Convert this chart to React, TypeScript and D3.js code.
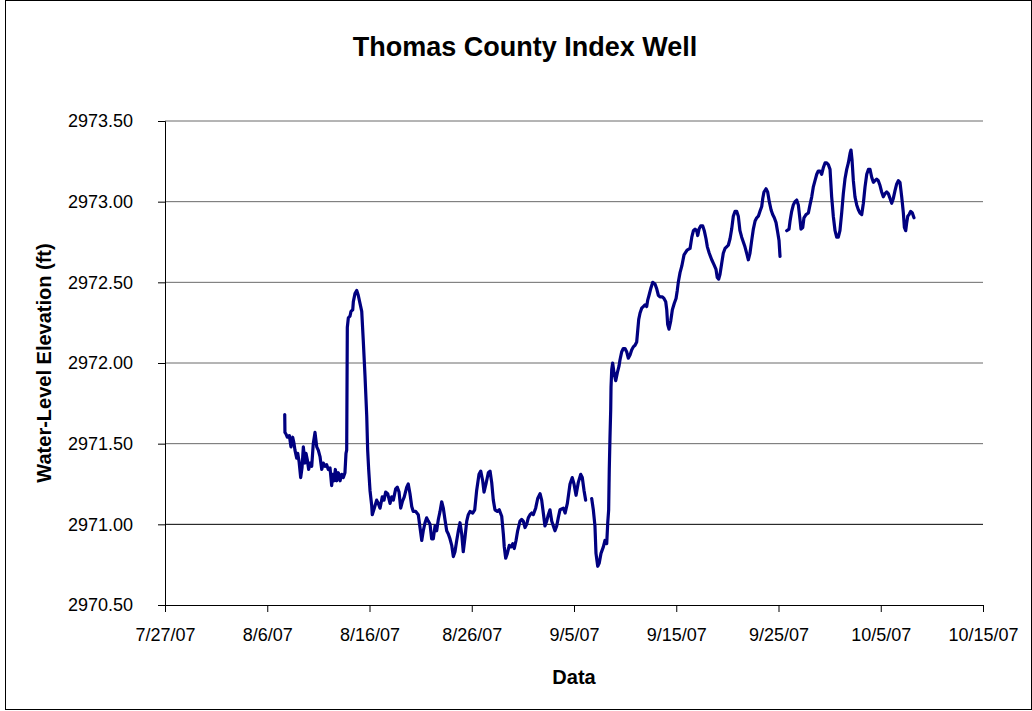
import React, { useEffect, useRef } from "react";
import * as d3 from "d3";

// days after 7/27/07 (fractional), null level = gap in the record
const dayOffsets = [
  11.71, 11.73, 11.83, 11.96, 12.16, 12.32, 12.49, 12.62, 12.71, 12.88, 12.98, 13.11, 13.27, 13.4, 13.53, 13.69,
  13.79, 13.92, 14.05, 14.18, 14.35, 14.5, 14.67, 14.84, 14.99, 15.16, 15.33, 15.48, 15.65, 15.81, 15.97, 16.14,
  16.3, 16.4, 16.53, 16.66, 16.79, 16.95, 17.12, 17.28, 17.44, 17.6, 17.7, 17.77, 17.83, 17.93, 18.09, 18.19,
  18.36, 18.42, 18.58, 18.75, 18.9, 19.07, 19.24, 19.39, 19.56, 19.73, 19.82, 19.92, 20.05, 20.21, 20.27, 20.47,
  20.7, 20.86, 21.03, 21.25, 21.42, 21.58, 21.78, 22.01, 22.17, 22.33, 22.56, 22.72, 22.89, 23.05, 23.21, 23.4,
  23.64, 23.79, 23.96, 24.13, 24.28, 24.52, 24.77, 24.94, 25.11, 25.26, 25.43, 25.59, 25.75, 25.92, 26.08, 26.24,
  26.41, 26.57, 26.73, 26.9, 27.06, 27.22, 27.38, 27.55, 27.71, 27.87, 28.04, 28.2, 28.36, 28.53, 28.69, 28.85,
  29.02, 29.17, 29.34, 29.51, 29.66, 29.83, 30.09, 30.29, 30.48, 30.71, 30.88, 31.07, 31.2, 31.39, 31.62, 31.79,
  31.95, 32.11, 32.27, 32.5, 32.69, 32.93, 33.09, 33.18, 33.32, 33.48, 33.67, 33.84, 34.01, 34.16, 34.33, 34.49,
  34.72, 34.88, 35.04, 35.21, 35.37, 35.53, 35.7, 35.86, 36.02, 36.25, 36.45, 36.68, 36.84, 37.0, 37.16, 37.33,
  37.49, 37.65, 37.82, 37.98, 38.14, 38.31, 38.46, 38.63, 38.96, 39.13, 39.35, 39.61, 39.83, 40.0, 40.2, 40.42,
  40.66, 40.81, 40.98, 41.14, 41.4,
  41.73, 41.89, 42.05, 42.15, 42.32, 42.47, 42.64, 42.87, 43.03, 43.2, 43.3, 43.39, 43.45, 43.52, 43.59, 43.62,
  43.69, 43.78, 43.91, 44.08, 44.24, 44.4, 44.5, 44.67, 44.82, 44.99, 45.15, 45.31, 45.48, 45.64, 45.8, 45.97,
  46.13, 46.23, 46.33, 46.46, 46.62, 46.78, 46.94, 47.11, 47.21, 47.34, 47.5, 47.7, 47.92, 48.09, 48.25, 48.41,
  48.64, 48.8, 48.97, 49.07, 49.16, 49.29, 49.46, 49.62, 49.81, 49.98, 50.1, 50.2, 50.37, 50.54, 50.76, 51.06,
  51.35, 51.52, 51.68, 51.84, 52.0, 52.1, 52.23, 52.39, 52.59, 52.74, 52.91, 53.04, 53.23, 53.47, 53.69, 53.89,
  54.01, 54.15, 54.28, 54.45, 54.6, 54.77, 54.93, 55.09, 55.26, 55.42, 55.58, 55.75, 55.91, 56.07, 56.23, 56.4,
  56.56, 56.72, 56.89, 57.05, 57.21, 57.38, 57.54, 57.71, 57.87, 58.03, 58.19, 58.36, 58.46, 58.58, 58.78, 58.94,
  59.1, 59.27, 59.43, 59.59, 59.76, 59.92, 60.05, 60.15, 60.5,
  60.8, 61.03, 61.13, 61.29, 61.45, 61.61, 61.78, 61.94, 62.1, 62.2, 62.37, 62.49, 62.69, 62.92, 63.08, 63.25,
  63.4, 63.57, 63.74, 63.89, 64.06, 64.22, 64.38, 64.55, 64.71, 64.87, 65.04, 65.2, 65.36, 65.53, 65.69, 65.85,
  66.01, 66.18, 66.34, 66.5, 66.67, 66.83, 67.0, 67.09, 67.19, 67.32, 67.48, 67.65, 67.81, 67.97, 68.14, 68.3,
  68.46, 68.63, 68.79, 68.95, 69.12, 69.28, 69.44, 69.6, 69.76, 69.93, 70.09, 70.25, 70.42, 70.58, 70.74, 70.91,
  71.07, 71.23, 71.4, 71.56, 71.72, 71.88, 72.05, 72.21, 72.31, 72.44, 72.54, 72.64, 72.77, 72.93, 73.09, 73.25,
];

const levels: (number | null)[] = [
  2971.68, 2971.57, 2971.56, 2971.54, 2971.55, 2971.48, 2971.54, 2971.5, 2971.46, 2971.41, 2971.44, 2971.39, 2971.29, 2971.35, 2971.48, 2971.38,
  2971.44, 2971.4, 2971.34, 2971.38, 2971.36, 2971.5, 2971.57, 2971.48, 2971.46, 2971.42, 2971.34, 2971.38, 2971.36, 2971.37, 2971.34, 2971.35,
  2971.24, 2971.31, 2971.27, 2971.34, 2971.27, 2971.32, 2971.27, 2971.31, 2971.29, 2971.32, 2971.44, 2971.46, 2972.22, 2972.28, 2972.29, 2972.32,
  2972.33, 2972.38, 2972.43, 2972.45, 2972.42, 2972.37, 2972.32, 2972.14, 2971.92, 2971.67, 2971.46, 2971.34, 2971.21, 2971.12, 2971.06, 2971.1,
  2971.15, 2971.13, 2971.1, 2971.17, 2971.15, 2971.2, 2971.19, 2971.13, 2971.17, 2971.15, 2971.22, 2971.23, 2971.2, 2971.1, 2971.14, 2971.17,
  2971.23, 2971.25, 2971.19, 2971.11, 2971.08, 2971.08, 2971.06, 2970.98, 2970.9, 2970.96, 2971.01, 2971.04, 2971.02, 2971.0, 2970.91, 2970.91,
  2970.99, 2970.96, 2971.03, 2971.08, 2971.14, 2971.1, 2971.03, 2970.96, 2970.94, 2970.91, 2970.87, 2970.8, 2970.83, 2970.9, 2970.96, 2971.01,
  2970.94, 2970.83, 2970.92, 2971.02, 2971.06, 2971.08, 2971.07, 2971.09, 2971.21, 2971.31, 2971.33, 2971.27, 2971.2, 2971.25, 2971.32, 2971.33,
  2971.26, 2971.15, 2971.09, 2971.08, 2971.09, 2971.05, 2970.94, 2970.86, 2970.79, 2970.82, 2970.87, 2970.86, 2970.88, 2970.85, 2970.9, 2970.96,
  2971.02, 2971.03, 2971.02, 2970.98, 2971.0, 2971.04, 2971.06, 2971.07, 2971.06, 2971.1, 2971.16, 2971.19, 2971.15, 2971.07, 2970.99, 2971.02,
  2971.06, 2971.09, 2971.02, 2970.99, 2970.96, 2970.99, 2971.04, 2971.09, 2971.1, 2971.07, 2971.13, 2971.25, 2971.29, 2971.25, 2971.18, 2971.26,
  2971.31, 2971.29, 2971.21, 2971.15, null,
  2971.16, 2971.09, 2970.99, 2970.82, 2970.74, 2970.76, 2970.82, 2970.86, 2970.9, 2970.88, 2971.01, 2971.09, 2971.34, 2971.54, 2971.71, 2971.85,
  2971.96, 2972.0, 2971.94, 2971.89, 2971.94, 2971.98, 2972.02, 2972.07, 2972.09, 2972.09, 2972.07, 2972.03, 2972.05, 2972.08, 2972.1, 2972.11,
  2972.13, 2972.2, 2972.27, 2972.31, 2972.34, 2972.35, 2972.36, 2972.35, 2972.39, 2972.42, 2972.46, 2972.5, 2972.49, 2972.46, 2972.42, 2972.41,
  2972.41, 2972.4, 2972.38, 2972.33, 2972.24, 2972.21, 2972.26, 2972.33, 2972.37, 2972.4, 2972.45, 2972.5, 2972.56, 2972.6, 2972.67, 2972.7,
  2972.71, 2972.78, 2972.82, 2972.83, 2972.82, 2972.79, 2972.83, 2972.85, 2972.85, 2972.82, 2972.77, 2972.72, 2972.68, 2972.64, 2972.61, 2972.58,
  2972.53, 2972.52, 2972.55, 2972.62, 2972.68, 2972.71, 2972.72, 2972.73, 2972.77, 2972.83, 2972.91, 2972.94, 2972.94, 2972.91, 2972.82, 2972.78,
  2972.75, 2972.72, 2972.68, 2972.64, 2972.68, 2972.76, 2972.83, 2972.88, 2972.9, 2972.91, 2972.94, 2972.97, 2973.02, 2973.06, 2973.08, 2973.06,
  2973.0, 2972.95, 2972.92, 2972.9, 2972.87, 2972.81, 2972.76, 2972.66, null,
  2972.82, 2972.83, 2972.88, 2972.94, 2972.98, 2973.0, 2973.01, 2972.98, 2972.89, 2972.83, 2972.84, 2972.9, 2972.92, 2972.93, 2972.98, 2973.03,
  2973.09, 2973.13, 2973.17, 2973.19, 2973.19, 2973.17, 2973.21, 2973.24, 2973.24, 2973.23, 2973.2, 2973.03, 2972.91, 2972.82, 2972.78, 2972.78,
  2972.82, 2972.93, 2973.05, 2973.14, 2973.2, 2973.24, 2973.3, 2973.32, 2973.26, 2973.13, 2973.03, 2972.98, 2972.95, 2972.93, 2972.92, 2972.99,
  2973.09, 2973.17, 2973.2, 2973.2, 2973.15, 2973.12, 2973.13, 2973.14, 2973.13, 2973.1, 2973.06, 2973.03, 2973.05, 2973.06, 2973.05, 2973.02,
  2972.99, 2973.02, 2973.07, 2973.11, 2973.13, 2973.12, 2973.03, 2972.93, 2972.84, 2972.82, 2972.87, 2972.91, 2972.92, 2972.94, 2972.93, 2972.9,
];

const xTickLabels = ["7/27/07", "8/6/07", "8/16/07", "8/26/07", "9/5/07", "9/15/07", "9/25/07", "10/5/07", "10/15/07"];
const yTickValues = [2970.5, 2971.0, 2971.5, 2972.0, 2972.5, 2973.0, 2973.5];

const startDate = new Date(2007, 6, 27);
const toDate = (d: number) => new Date(startDate.getTime() + d * 864e5);

const App = () => {
  const svgRef = useRef<SVGSVGElement>(null);

  useEffect(() => {
    const svg = d3.select(svgRef.current);
    svg.selectAll("*").remove();
    draw(svg);
  }, []);

  const draw = (svg: any) => {
    const W = 1032, H = 711;
    const left = 165, right = 983, top = 121, bottom = 605;
    const font = "'Liberation Sans', Arial, Helvetica, sans-serif";

    const x = d3.scaleTime().domain([startDate, toDate(80)]).range([left, right]);
    const y = d3.scaleLinear().domain([2970.5, 2973.5]).range([bottom, top]);

    svg.append("rect").attr("width", W).attr("height", H).attr("fill", "#fff");
    svg.append("rect")
      .attr("x", 5.5).attr("y", 0.5).attr("width", W - 6).attr("height", H - 2)
      .attr("fill", "none").attr("stroke", "#000").attr("stroke-width", 1);

    // gridlines
    svg.append("g")
      .selectAll("line")
      .data(yTickValues.slice(1))
      .enter()
      .append("line")
      .attr("x1", left).attr("x2", right)
      .attr("y1", (d: number) => y(d)).attr("y2", (d: number) => y(d))
      .attr("stroke", (d: number) => (d === 2971.0 ? "#000" : "#6a6a6a"))
      .attr("stroke-width", 1);

    const xTicks = xTickLabels.map((_, i) => toDate(i * 10));
    const xAxis = svg.append("g")
      .attr("transform", `translate(0,${bottom})`)
      .call(d3.axisBottom(x).tickValues(xTicks).tickSize(7).tickPadding(16)
        .tickFormat((_d: any, i: number) => xTickLabels[i]));
    xAxis.select(".domain").attr("stroke", "#000");
    xAxis.selectAll("text").attr("font-family", font).attr("font-size", "18px").attr("fill", "#000");

    const yAxis = svg.append("g")
      .attr("transform", `translate(${left},0)`)
      .call(d3.axisLeft(y).tickValues(yTickValues).tickSize(7).tickPadding(25).tickFormat(d3.format(".2f")));
    yAxis.select(".domain").attr("stroke", "#000");
    yAxis.selectAll("text").attr("font-family", font).attr("font-size", "18px").attr("fill", "#000");

    const pts = dayOffsets.map((d, i) => ({ t: toDate(d), v: levels[i] }));
    const line = d3.line<any>()
      .defined((p) => p.v !== null)
      .x((p) => x(p.t))
      .y((p) => y(p.v));

    svg.append("path")
      .datum(pts)
      .attr("d", line)
      .attr("fill", "none")
      .attr("stroke", "#000080")
      .attr("stroke-width", 3.2)
      .attr("stroke-linejoin", "round")
      .attr("stroke-linecap", "round");

    svg.append("text")
      .attr("x", 525).attr("y", 56)
      .attr("text-anchor", "middle")
      .attr("font-family", font).attr("font-weight", "bold").attr("font-size", "27px")
      .text("Thomas County Index Well");

    svg.append("text")
      .attr("x", 574).attr("y", 684)
      .attr("text-anchor", "middle")
      .attr("font-family", font).attr("font-weight", "bold").attr("font-size", "20px")
      .text("Data");

    svg.append("text")
      .attr("transform", `translate(51,${(top + bottom) / 2}) rotate(-90)`)
      .attr("text-anchor", "middle")
      .attr("font-family", font).attr("font-weight", "bold").attr("font-size", "20px")
      .text("Water-Level Elevation (ft)");
  };

  return (
    <div style={{ position: "absolute", left: 0, top: 0 }}>
      <svg ref={svgRef} width={1032} height={711} style={{ display: "block" }}></svg>
    </div>
  );
};

export default App;
